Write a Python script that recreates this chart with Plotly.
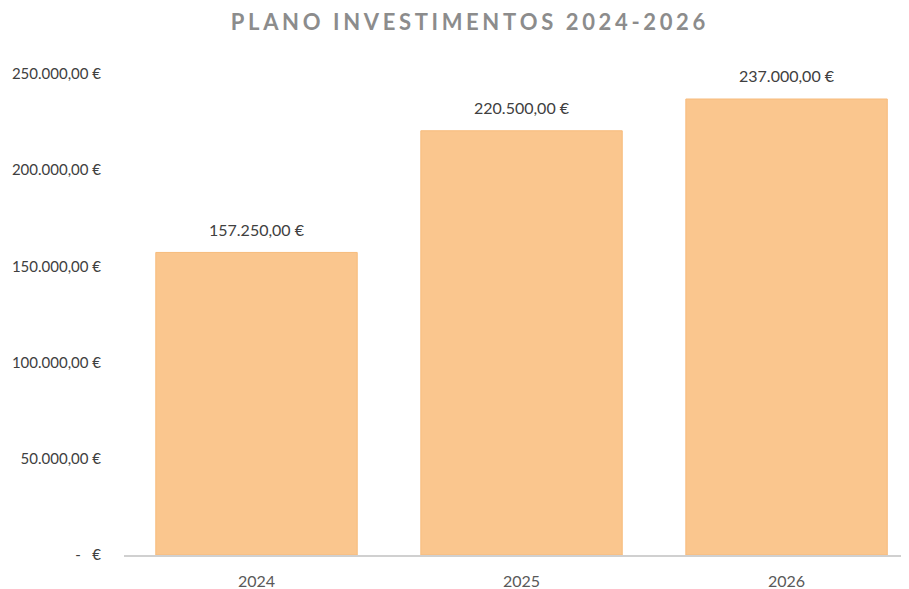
import plotly.graph_objects as go

categories = ["2024", "2025", "2026"]
values = [157250, 220500, 237000]
value_labels = ["157.250,00 €", "220.500,00 €", "237.000,00 €"]
y_tickvals = [0, 50000, 100000, 150000, 200000, 250000]
y_ticktext = ["-   €", "50.000,00 €", "100.000,00 €", "150.000,00 €", "200.000,00 €", "250.000,00 €"]
title_text = "PLANO INVESTIMENTOS 2024-2026"

FONT = "Lato"
OFF = 8  # page body margin

fig = go.Figure()
fig.add_trace(go.Bar(
    x=categories, y=values,
    marker=dict(color="#FAC68E", line=dict(color="#F7BB7C", width=1)),
    hoverinfo="skip",
))
# value labels above the bars (invisible markers give the gap)
fig.add_trace(go.Scatter(
    x=categories, y=values, text=value_labels,
    mode="markers+text", textposition="top center",
    marker=dict(size=19, opacity=0, color="white"),
    textfont=dict(family=FONT, size=16, color="#404040"),
    cliponaxis=False, hoverinfo="skip",
))

gap = '<span style="font-size:29px">\u2009</span>'
spaced_title = gap.join(list(title_text))

W, H = 909 - OFF, 589 - OFF
fig.update_layout(
    width=W, height=H,
    margin=dict(l=124 - OFF, r=0, t=74 - OFF, b=42 - OFF),
    paper_bgcolor="white", plot_bgcolor="white",
    showlegend=False,
    bargap=0.24,
    title=dict(text="<b>" + spaced_title + "</b>", x=(468 - OFF) / W, xanchor="center",
               y=1 - (22 - OFF) / H, yanchor="middle",
               font=dict(family=FONT, size=22, color="#8C8C8C")),
    xaxis=dict(type="category", range=[-0.5, 2.462], showgrid=False, showline=True,
               linecolor="#D0D0D0", linewidth=1.5, ticks="",
               tickfont=dict(family=FONT, size=16, color="#595959"),
               ticklabelstandoff=11, fixedrange=True),
    yaxis=dict(range=[0, 250000], showgrid=False, showline=False, zeroline=False,
               tickvals=y_tickvals, ticktext=y_ticktext, ticks="",
               tickfont=dict(family=FONT, size=15, color="#404040"),
               ticklabelstandoff=22, fixedrange=True),
)

fig.write_html("out.html")
